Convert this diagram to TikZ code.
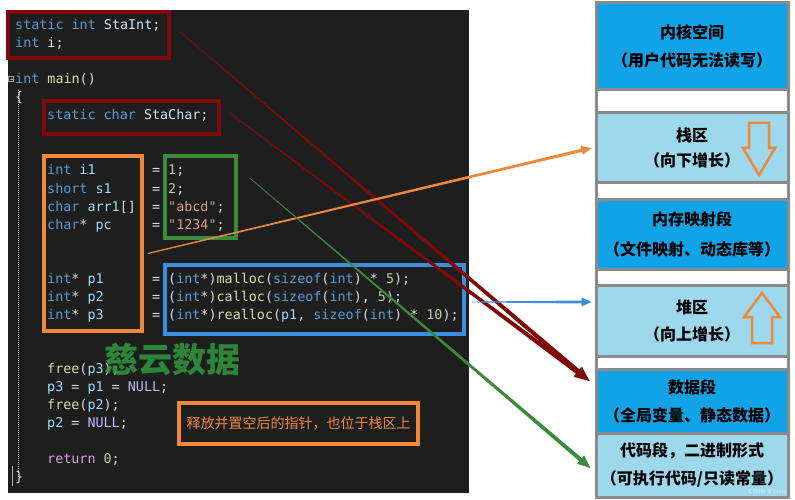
\documentclass[tikz,border=0pt]{standalone}
\usepackage{fontspec}
\usetikzlibrary{calc}
\newfontfamily\codefont{DejaVu Sans Mono}
\newfontfamily\cjk{Noto Sans CJK SC}
\definecolor{panel}{HTML}{1E1E1E}
\definecolor{ckw}{HTML}{569CD6}
\definecolor{cvar}{HTML}{9CDCFE}
\definecolor{cglob}{HTML}{D2E4F4}
\definecolor{cfn}{HTML}{DCDCAA}
\definecolor{cnum}{HTML}{B5CEA8}
\definecolor{cstr}{HTML}{D69D85}
\definecolor{cpun}{HTML}{DCDCDC}
\definecolor{cmac}{HTML}{BEB7FF}
\definecolor{cret}{HTML}{D8A0DF}
\definecolor{bred}{HTML}{7F0A0A}
\definecolor{bora}{HTML}{F0883A}
\definecolor{bgrn}{HTML}{3A8C3A}
\definecolor{bblu}{HTML}{3C8FE0}
\definecolor{mdark}{HTML}{12A3E6}
\definecolor{mlight}{HTML}{9DD8EC}
\definecolor{mgray}{HTML}{8A8A8A}
\definecolor{wmark}{HTML}{2E9A3C}
\newcommand\kw[1]{\textcolor{ckw}{#1}}
\newcommand\vr[1]{\textcolor{cvar}{#1}}
\newcommand\gv[1]{\textcolor{cglob}{#1}}
\newcommand\fn[1]{\textcolor{cfn}{#1}}
\newcommand\nm[1]{\textcolor{cnum}{#1}}
\newcommand\sr[1]{\textcolor{cstr}{#1}}
\newcommand\mc[1]{\textcolor{cmac}{#1}}
\newcommand\rt[1]{\textcolor{cret}{#1}}
% tapered arrow: #1 start, #2 tip, #3 start half width, #4 end half width, #5 head length, #6 head half width, #7 colour
\newcommand\tarrow[7]{%
  \coordinate (hb) at ($(#2)!#5!(#1)$);
  \fill[#7] ($(#1)!#3!90:(#2)$) -- ($(hb)!#4!-90:(#1)$) -- ($(hb)!#6!-90:(#1)$) -- (#2)
    -- ($(hb)!#6!90:(#1)$) -- ($(hb)!#4!90:(#1)$) -- ($(#1)!#3!-90:(#2)$) -- cycle;
}
\begin{document}
\begin{tikzpicture}[x=1pt,y=-1pt,
  code/.style={anchor=base west,inner sep=0pt,text=cpun,font=\codefont\fontsize{13.4}{16}\selectfont},
  hbox/.style={draw=#1,line width=3.5pt,inner sep=0pt},
  blk/.style={draw=mgray,line width=3pt,minimum width=192pt,inner sep=0pt,align=center,
     font=\cjk\bfseries\fontsize{16}{28}\selectfont,text=black},
  growarrow/.style={draw=bora,line width=2.5pt,line join=miter}
]
\useasboundingbox (0,0) rectangle (795,500);
\fill[white] (0,0) rectangle (795,500);
% code panel
\fill[panel] (8,10) rectangle (469,493);
\draw[gray!70,line width=0.6pt] (8.5,76.5) rectangle (13.5,81.5);
\draw[gray!70,line width=0.6pt] (9.5,79) -- (12.5,79);
\draw[gray!60,line width=0.6pt,dash pattern=on 1pt off 1pt] (18,90) -- (18,478);
\draw[gray!60,line width=0.6pt] (12,466) -- (12,486);

% code lines
\node[code] (l1) at (15,30) {\kw{static} \kw{int} \gv{StaInt};};
\node[code] (l2) at (15,48) {\kw{int} \gv{i};};
\node[code] (l3) at (15,84) {\kw{int} \fn{main}()};
\node[code] (l4) at (15,102) {\{};
\node[code] (l5) at (47,120) {\kw{static} \kw{char} \gv{StaChar};};
\node[code] (l6) at (47,175) {\kw{int} \vr{i1}~~~~~~~=~\nm{1};};
\node[code] (l7) at (47,193) {\kw{short} \vr{s1}~~~~~=~\nm{2};};
\node[code] (l8) at (47,211) {\kw{char} \vr{arr1}[]~~=~\sr{"abcd"};};
\node[code] (l9) at (47,229) {\kw{char}* \vr{pc}~~~~~=~\sr{"1234"};};
\node[code] (l10) at (47,283) {\kw{int}* \vr{p1}~~~~~~=~(\kw{int}*)\fn{malloc}(\kw{sizeof}(\kw{int}) * \nm{5});};
\node[code] (l11) at (47,301) {\kw{int}* \vr{p2}~~~~~~=~(\kw{int}*)\fn{calloc}(\kw{sizeof}(\kw{int}), \nm{5});};
\node[code] (l12) at (47,319) {\kw{int}* \vr{p3}~~~~~~=~(\kw{int}*)\fn{realloc}(\vr{p1}, \kw{sizeof}(\kw{int}) * \nm{10});};
\node[code] (l13) at (47,373) {\fn{free}(\vr{p3});};
\node[code] (l14) at (47,391) {\vr{p3} = \vr{p1} = \mc{NULL};};
\node[code] (l15) at (47,409) {\fn{free}(\vr{p2});};
\node[code] (l16) at (47,427) {\vr{p2} = \mc{NULL};};
\node[code] (l17) at (47,463) {\rt{return} \nm{0};};
\node[code] (l18) at (15,481) {\}};

% watermark
\node[text=wmark,opacity=0.85,font=\cjk\bfseries\fontsize{34}{34}\selectfont,inner sep=0pt] (wm) at (172,360) {慈云数据};

% highlight boxes
\node[hbox=bred,line width=4.5pt,minimum width=161pt,minimum height=46pt] (rb1) at (88.5,35) {};
\node[hbox=bred,line width=4.5pt,minimum width=175pt,minimum height=33pt] (rb2) at (131.5,117.5) {};
\node[hbox=bora,minimum width=98pt,minimum height=175pt] (ob) at (93,243.5) {};
\node[hbox=bgrn,minimum width=71pt,minimum height=82pt] (gb) at (200.5,197) {};
\node[hbox=bblu,minimum width=299pt,minimum height=69pt] (bb) at (314.5,299.5) {};
\node[hbox=bora,minimum width=239pt,minimum height=41pt,text=bora,
      font=\cjk\fontsize{14}{14}\selectfont] (note) at (298.5,423.5) {释放并置空后的指针，也位于栈区上};

% memory layout
\draw[mgray,line width=3pt,fill=white] (596,3) rectangle (788,497);
\node[blk,fill=mdark,minimum height=87pt] (kern) at (692,46.5) {内核空间\\（用户代码无法读写）};
\node[blk,fill=mlight,minimum height=69pt,font=\cjk\bfseries\fontsize{16}{25}\selectfont] (stack) at (692,147.5) {栈区\\（向下增长）};
\node[blk,fill=mdark,minimum height=70pt,font=\cjk\bfseries\fontsize{16}{30}\selectfont] (mmap) at (692,234) {内存映射段\\（文件映射、动态库等）};
\node[blk,fill=mlight,minimum height=71pt,font=\cjk\bfseries\fontsize{16}{27}\selectfont] (heap) at (692,320.5) {堆区\\（向上增长）};
\node[blk,fill=mdark,minimum height=64pt] (data) at (692,401) {数据段\\（全局变量、静态数据）};
\node[blk,fill=mlight,minimum height=64pt] (codeseg) at (692,465) {代码段，二进制形式\\（可执行代码/只读常量）};
\draw[mgray,line width=3pt] (596,3) rectangle (788,497);

% growth arrows
\draw[growarrow] (749,123) -- (769,123) -- (769,148) -- (775,148) -- (759,175) -- (743,148) -- (749,148) -- cycle;
\draw[growarrow] (752,343) -- (772,343) -- (772,317) -- (780,317) -- (762,293) -- (744,317) -- (752,317) -- cycle;

\node[text=white,opacity=0.6,font=\sffamily\fontsize{6}{6}\selectfont,inner sep=0pt,anchor=east] (csdn) at (786,491) {CSDN @Yonis};

% connectors
\coordinate (r1s) at ($(rb1.east)+(9,-3)$);
\coordinate (r2s) at ($(rb2.east)+(9,-4)$);
\coordinate (dtip) at ($(data.west)+(-5,-20)$);
\coordinate (os) at ($(ob.east)+(4,10)$);
\coordinate (stip) at ($(stack.west)+(-3,0.5)$);
\coordinate (bs) at ($(bb.east)+(6,2.5)$);
\coordinate (htip) at ($(heap.west)+(-3,-18.5)$);
\coordinate (gs) at ($(gb.east)+(12,-19)$);
\coordinate (ctip) at ($(codeseg.west)+(-4,3)$);
\tarrow{r1s}{dtip}{0.3pt}{2.3pt}{15pt}{6pt}{bred}
\tarrow{r2s}{dtip}{0.4pt}{2.3pt}{15pt}{6pt}{bred}
\tarrow{os}{stip}{0.6pt}{1.6pt}{10pt}{4.5pt}{bora}
\tarrow{bs}{htip}{0.4pt}{1.5pt}{10pt}{4.5pt}{bblu}
\tarrow{gs}{ctip}{0.3pt}{2pt}{13pt}{5.5pt}{bgrn}
\end{tikzpicture}
\end{document}
